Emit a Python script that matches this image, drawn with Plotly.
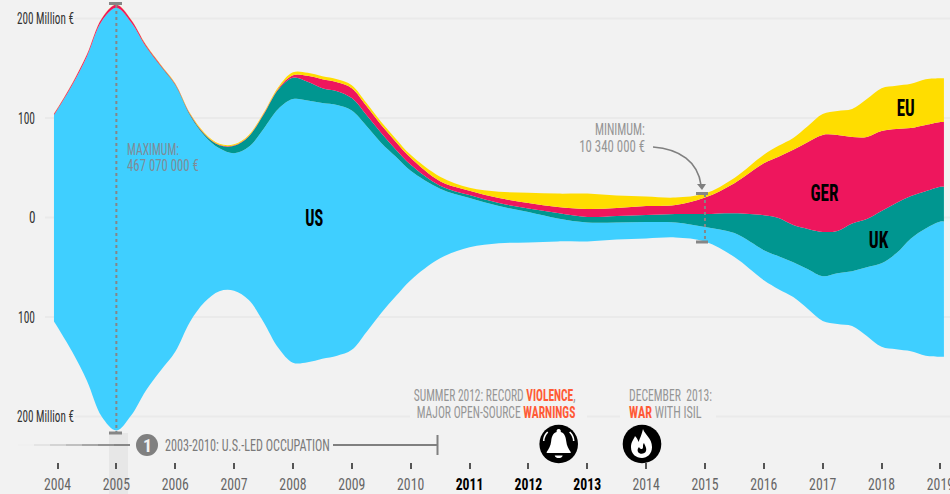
import json
import numpy as np
import plotly.graph_objects as go

W, H = 950, 494
FONT = "Roboto Condensed, Open Sans Condensed, DejaVu Sans Condensed, sans-serif"
GREY = "#8a8a8a"
ORANGE = "#ff5a36"

years = [2003.94, 2004, 2004.25, 2004.5, 2004.75, 2005, 2005.25, 2005.5, 2005.75, 2006, 2006.25, 2006.5, 2006.75,
         2007, 2007.25, 2007.5, 2007.75, 2008, 2008.25, 2008.5, 2008.75, 2009, 2009.25, 2009.5, 2009.75,
         2010, 2010.5, 2011, 2011.5, 2012, 2012.5, 2013, 2013.5, 2014, 2014.5, 2015, 2015.5,
         2016, 2016.25, 2016.5, 2016.75, 2017, 2017.25, 2017.5, 2017.75, 2018, 2018.25, 2018.5, 2018.75,
         2019, 2019.06]
us = [207.3, 218.3, 268, 325.7, 397, 424.5, 394.9, 345.5, 306, 267.9, 207.6, 167, 143.5,
      138, 154, 194, 240, 265, 263, 257, 252, 240.5, 207, 171, 140,
      110, 70, 49.5, 37.5, 30.5, 23, 19, 17, 16.5, 15, 14.5, 24,
      30.2, 33, 35, 40, 45, 51, 55, 69, 84, 96.5, 113.5, 128, 136, 136]
uk = [0.2, 0.2, 0.2, 0.2, 0.2, 0.2, 0.3, 0.5, 0.5, 0.7, 1, 1.5, 3,
      7.5, 10.5, 14.3, 19.5, 21.5, 19, 15, 14, 12.5, 11, 10, 7,
      6, 3, 3, 3, 3.5, 5.5, 5.5, 6.5, 7, 8.5, 13, 20,
      35.1, 38.5, 37.5, 40.5, 44.5, 42.5, 48, 48.5, 52.5, 50.5, 42.5, 37.5, 35, 35]
ger = [1.2, 1.2, 1.5, 1.8, 2.5, 3, 2.5, 1.5, 1, 0.7, 0.6, 0.5, 0.5,
       0.5, 0.5, 0.7, 1, 2.5, 6, 9, 9, 10, 9, 8, 8,
       7, 4.5, 4.5, 5, 5.5, 6, 8, 8, 9, 9, 16.5, 30.2,
       52.2, 61.5, 75.5, 87.5, 97.5, 96.5, 87, 82.5, 80.5, 74.5, 68.5, 66.5, 65, 65]
eu = [0.3, 0.3, 0.3, 0.3, 0.3, 0.3, 0.3, 0.5, 0.5, 0.7, 0.8, 1, 1,
      1, 1, 1, 1.5, 3, 3, 3, 3, 3, 3, 3, 3,
      3, 4.5, 3, 6.5, 10.5, 13.5, 15.5, 12.5, 9.5, 7.5, 4, 5.2,
      8.5, 11, 12, 16, 21, 24, 28, 38, 43, 43.5, 44.5, 46, 44, 44]

series = [("US", us, "#3fcfff"), ("UK", uk, "#009690"), ("GER", ger, "#ee165d"), ("EU", eu, "#ffdd00")]
tick_years = list(range(2004, 2020))

X0, XS = 57.5, 58.86          # pixel of 2004, pixels per year
Y0, YS = 217.5, 0.995         # pixel of zero, pixels per unit
xrange_ = [2004 - X0 / XS, 2004 + (W - X0) / XS]
yrange_ = [(Y0 - H) / YS, Y0 / YS]


def yr(px):
    return 2004 + (px - X0) / XS


def val(py):
    return (Y0 - py) / YS


def path(points):
    out = []
    for item in points:
        cmd, *nums = item
        pairs = []
        for i in range(0, len(nums), 2):
            pairs.append(f"{nums[i] / W:.5f},{1 - nums[i + 1] / H:.5f}")
        out.append(cmd + " ".join(pairs))
    return " ".join(out)


total = np.sum([us, uk, ger, eu], axis=0)
base = -total / 2
SMOOTH = 1.0

fig = go.Figure()
fig.add_trace(go.Scatter(x=years, y=base, mode="lines", line=dict(width=0, shape="spline", smoothing=SMOOTH),
                         showlegend=False, hoverinfo="skip"))
cum = base.copy()
for name, vals, color in series:
    cum = cum + np.array(vals)
    fig.add_trace(go.Scatter(x=years, y=cum, mode="lines", name=name, fill="tonexty", fillcolor=color,
                             line=dict(width=0, color=color, shape="spline", smoothing=SMOOTH), showlegend=False))

shapes = []


def seg(x0, x1, v0, v1, color, width, dash="solid", layer="above"):
    shapes.append(dict(type="line", x0=x0, x1=x1, y0=v0, y1=v1, xref="x", yref="y",
                       line=dict(color=color, width=width, dash=dash), layer=layer))


# gridlines
gridc = "#eaeaea"
seg(yr(75), yr(950), 200, 200, gridc, 2, layer="below")
seg(yr(45), yr(950), 100, 100, gridc, 2, layer="below")
seg(yr(45), yr(950), 0, 0, gridc, 2, layer="below")
seg(yr(45), yr(950), -100, -100, gridc, 2, layer="below")
seg(yr(75), yr(410), -200, -200, gridc, 2, layer="below")
seg(yr(587), yr(620), -200, -200, gridc, 2, layer="below")
seg(yr(716), yr(950), -200, -200, gridc, 2, layer="below")

# band at 2005
shapes.append(dict(type="rect", x0=yr(109), x1=yr(128), y0=val(433), y1=val(494), xref="x", yref="y",
                   fillcolor="#e7e7e7", line=dict(width=0), layer="below"))

# max / min markers
dotc = "#868686"
seg(2005, 2005, val(5), val(432), dotc, 2, "dot")
seg(yr(109), yr(122), val(3.5), val(3.5), dotc, 3)
seg(yr(109), yr(122), val(433), val(433), dotc, 3)
seg(2015, 2015, val(194), val(242), dotc, 2, "dot")
seg(yr(696), yr(708), val(193.5), val(193.5), dotc, 3)
seg(yr(696), yr(708), val(242), val(242), dotc, 3)

# occupation timeline
fade = ["#f0f0f0", "#e4e4e4", "#d4d4d4", "#c0c0c0", "#a8a8a8", "#949494", "#878787"]
for i, c in enumerate(fade):
    seg(yr(18 + i * 16), yr(18 + (i + 1) * 16), val(445), val(445), c, 2)
seg(yr(333), yr(437), val(445), val(445), "#808080", 2)
seg(yr(437.5), yr(437.5), val(435), val(455), "#808080", 2)
shapes.append(dict(type="circle", xref="paper", yref="paper", x0=136 / W, x1=158 / W, y0=1 - 456 / H, y1=1 - 434 / H,
                   fillcolor="#808080", line=dict(width=0)))

# arrow to the minimum
shapes.append(dict(type="path", xref="paper", yref="paper",
                   path=path([("M", 653, 147), ("C", 680, 149, 698, 162, 701, 185)]),
                   line=dict(color="#808080", width=1.6)))
shapes.append(dict(type="path", xref="paper", yref="paper",
                   path=path([("M", 697, 184), ("L", 706, 184), ("L", 702, 190), ("Z",)]),
                   fillcolor="#808080", line=dict(width=0)))

# icon discs
for cx in (558.7, 642):
    shapes.append(dict(type="circle", xref="paper", yref="paper", x0=(cx - 19.3) / W, x1=(cx + 19.3) / W,
                       y0=1 - (444 + 19.3) / H, y1=1 - (444 - 19.3) / H, fillcolor="#000000", line=dict(width=0)))


def icon(cx, cy, pts, fill="#ffffff", line=None):
    moved = []
    for item in pts:
        cmd, *nums = item
        n = [v + (cx if i % 2 == 0 else cy) for i, v in enumerate(nums)]
        moved.append((cmd, *n))
    d = dict(type="path", xref="paper", yref="paper", path=path(moved))
    if fill:
        d["fillcolor"] = fill
        d["line"] = dict(width=0)
    if line:
        d["line"] = dict(color=line, width=1.6)
    shapes.append(d)


# bell
icon(558.7, 444, [("M", 0, -15), ("C", 2, -15, 2.5, -13, 2, -12), ("C", 6, -11, 7, -7, 7.5, -3),
                  ("C", 8, 2, 10, 5, 12, 8), ("L", 12, 9), ("L", -12, 9), ("L", -12, 8),
                  ("C", -10, 5, -8, 2, -7.5, -3), ("C", -7, -7, -6, -11, -2, -12),
                  ("C", -2.5, -13, -2, -15, 0, -15), ("Z",)])
icon(558.7, 444, [("M", -4, 11.5), ("C", -3, 15, 3, 15, 4, 11.5), ("Z",)])
icon(558.7, 444, [("M", -11, -12), ("C", -14, -9, -15, -6, -15, -3)], fill=None, line="#ffffff")
icon(558.7, 444, [("M", 11, -12), ("C", 14, -9, 15, -6, 15, -3)], fill=None, line="#ffffff")
# flame
icon(642, 444, [("M", 1, -15), ("C", 3, -9, 10, -6, 10, 3), ("C", 10, 10, 5, 14, 0, 14),
                ("C", -6, 14, -11, 10, -11, 3), ("C", -11, -2, -8, -5, -7, -8),
                ("C", -5, -6, -4, -4, -3.5, -2), ("C", -2, -6, 0, -10, 1, -15), ("Z",)])
icon(642, 444, [("M", 2, -1), ("C", 3, 2, 5, 4, 4, 7), ("C", 3, 10, -2, 11, -4, 8),
                ("C", -5, 6, -4, 4, -3, 3), ("C", -2, 5, -1, 5, 0, 5), ("C", 2, 4, 0, 1, 2, -1), ("Z",)], fill="#000000")

ann = []
fit_width = []
fit_anchor = []


def label(px, py, text, size=16, color=GREY, anchor="left", width=None):
    ann.append(dict(xref="paper", yref="paper", x=px / W, y=1 - py / H, text=text, showarrow=False,
                    xanchor=anchor, yanchor="middle", font=dict(family=FONT, size=size, color=color)))
    fit_width.append(width)
    fit_anchor.append(anchor)


label(15, 19, "200 Million €", 16, "#333333", width=57)
label(16, 118, "100", 16, "#333333", width=17)
label(27, 217, "0", 16, "#333333", width=6.5)
label(16, 317, "100", 16, "#333333", width=17)
label(15, 416, "200 Million €", 16, "#333333", width=57)

label(125, 149, "MAXIMUM:", 16, "#7f8c97", width=52)
label(125, 166, "467 070 000 €", 16, "#7f8c97", width=72)
label(647, 130, "MINIMUM:", 16, "#959595", "right", width=50)
label(647, 146, "10 340 000 €", 16, "#959595", "right", width=66)

label(314, 218, "<b>US</b>", 24, "#000000", "center", width=18)
label(824, 193, "<b>GER</b>", 24, "#000000", "center", width=28)
label(879, 240, "<b>UK</b>", 24, "#000000", "center", width=20)
label(905, 108, "<b>EU</b>", 24, "#000000", "center", width=18)

label(147, 445, "<b>1</b>", 18, "#f2f2f2", "center")
label(163, 445, "2003-2010: U.S.-LED OCCUPATION", 16, "#7a7a7a", width=165)

label(578, 395, f"SUMMER 2012: RECORD <b><span style='color:{ORANGE}'>VIOLENCE</span></b>,", 16, "#959595", "right", width=162)
label(578, 412, f"MAJOR OPEN-SOURCE <b><span style='color:{ORANGE}'>WARNINGS</span></b>", 16, "#959595", "right", width=159)
label(627, 395, "DECEMBER  2013:", 16, "#959595", width=83)
label(627, 412, f"<b><span style='color:{ORANGE}'>WAR</span></b> WITH ISIL", 16, "#959595", width=73)

tick_text = [f"<b><span style='color:#000000'>{y}</span></b>" if y in (2011, 2012, 2013) else str(y) for y in tick_years]

fig.update_layout(
    width=W, height=H, margin=dict(l=0, r=0, t=0, b=0, autoexpand=False), autosize=False,
    paper_bgcolor="#f2f2f2", plot_bgcolor="#f2f2f2", showlegend=False,
    xaxis=dict(range=xrange_, tickmode="array", tickvals=tick_years, ticktext=tick_text, showgrid=False, zeroline=False,
               showline=False, ticks="outside", ticklen=6, tickwidth=2, tickcolor="#555555", anchor="free",
               position=(H - 462) / H, ticklabelstandoff=2, ticklabeloverflow="allow",
               tickfont=dict(family=FONT, size=16, color="#666666")),
    yaxis=dict(range=yrange_, showgrid=False, zeroline=False, showline=False, showticklabels=False, ticks=""),
    shapes=shapes, annotations=ann, font=dict(family=FONT),
)

post = """
document.body.style.margin='0';document.body.style.overflow='hidden';
var FW=%s, FA=%s;
function squeeze(t,k,p){var o=t.getAttribute('transform')||'';
 t.setAttribute('transform',o+' translate('+p+',0) scale('+k+',1) translate('+(-p)+',0)');}
document.querySelectorAll('.annotation').forEach(function(g){
 var i=+g.getAttribute('data-index'); if(!FW[i])return;
 var t=g.querySelector('.annotation-text'); var b=t.getBBox();
 var p=FA[i]==='left'?b.x:(FA[i]==='right'?b.x+b.width:b.x+b.width/2);
 squeeze(t,FW[i]/b.width,p);});
document.querySelectorAll('.xtick text').forEach(function(t){
 var b=t.getBBox(); squeeze(t,0.86,b.x+b.width/2);});
""" % (json.dumps(fit_width), json.dumps(fit_anchor))

fig.write_html("out.html", post_script=post, config=dict(displayModeBar=False))
